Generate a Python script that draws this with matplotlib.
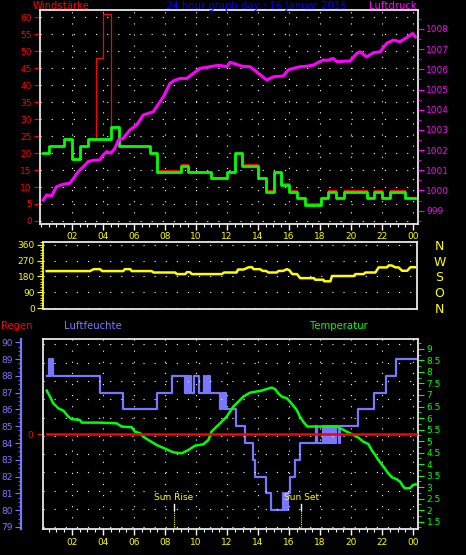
import numpy as np
import matplotlib
matplotlib.use('Agg')
import matplotlib.pyplot as plt
from matplotlib.ticker import MultipleLocator

# hours of the day (0..24)
hour_ticks = [2, 4, 6, 8, 10, 12, 14, 16, 18, 20, 22, 24]
hour_labels = ['02', '04', '06', '08', '10', '12', '14', '16', '18', '20', '22', '00']

# wind speed (average), step changes
wind_t = [0.15, 0.52, 1.5, 1.98, 2.5, 3.05, 4.5, 5.03, 7.03, 7.46, 9.03, 9.5, 11.0, 12.0, 12.5,
          13.0, 14.0, 14.5, 15.03, 15.5, 16.0, 16.5, 17.03, 18.06, 18.5, 19.03, 19.57, 21.0,
          21.5, 22.0, 22.5, 23.5, 24.1]
wind_v = [20.1, 22.2, 24.1, 18.3, 22.2, 24.1, 27.8, 22.2, 20.1, 14.5, 16.3, 14.5, 12.6, 14.5, 20.1,
          16.3, 12.6, 8.6, 14.5, 10.6, 8.6, 6.7, 4.7, 6.7, 8.6, 6.7, 8.6, 6.7,
          8.6, 6.7, 8.6, 6.7, 6.7]

# gusts
gust_t = [0.15, 0.52, 1.5, 1.98, 2.5, 3.05, 3.53, 4.02, 4.5, 5.03, 7.03, 7.46, 9.03, 9.5, 11.0,
          12.0, 12.5, 13.0, 14.0, 14.5, 15.03, 15.5, 16.0, 16.5, 17.03, 18.06, 18.5, 19.03,
          19.57, 21.0, 21.5, 22.0, 22.5, 23.5, 24.1]
gust_v = [20.1, 22.2, 24.1, 18.3, 22.2, 24.1, 48.1, 61.0, 27.8, 22.2, 20.1, 14.9, 16.8, 14.5, 13.0,
          14.5, 20.1, 16.7, 12.9, 9.1, 14.5, 11.1, 9.1, 7.2, 5.4, 7.2, 9.1, 7.2,
          9.1, 7.2, 9.1, 7.2, 9.1, 7.2, 7.2]

# air pressure (hPa)
press_t = [0.15, 0.37, 0.69, 1.0, 1.4, 1.87, 2.1, 2.4, 2.7, 3.05, 3.4, 3.8, 4.0, 4.24, 4.5, 4.77,
           5.0, 5.3, 5.74, 6.17, 6.6, 7.25, 7.46, 7.9, 8.32, 8.6, 8.97, 9.4, 9.83, 10.26, 10.7,
           11.1, 11.5, 12.0, 12.2, 12.6, 13.0, 13.5, 13.9, 14.2, 14.56, 14.99, 15.3, 15.63, 15.95,
           16.3, 16.7, 17.1, 17.57, 17.9, 18.2, 18.5, 18.86, 19.08, 19.5, 19.94, 20.37, 20.58,
           21.0, 21.44, 21.87, 22.3, 22.73, 23.16, 23.6, 23.98, 24.15]
press_v = [999.53, 999.78, 999.73, 1000.19, 1000.3, 1000.36, 1000.6, 1000.93, 1001.15, 1001.43,
           1001.5, 1001.51, 1001.75, 1001.92, 1001.85, 1002.09, 1002.5, 1002.58, 1003.0, 1003.24,
           1003.74, 1003.9, 1004.15, 1004.64, 1005.3, 1005.45, 1005.55, 1005.55, 1005.8, 1006.05,
           1006.1, 1006.16, 1006.2, 1006.13, 1006.35, 1006.25, 1006.15, 1006.13, 1005.88, 1005.7,
           1005.47, 1005.63, 1005.65, 1005.67, 1005.97, 1006.05, 1006.13, 1006.15, 1006.21,
           1006.35, 1006.46, 1006.45, 1006.54, 1006.38, 1006.4, 1006.41, 1006.79, 1006.87,
           1006.62, 1006.82, 1006.87, 1007.29, 1007.45, 1007.37, 1007.58, 1007.78, 1007.61]

# wind direction (degrees)
dir_t = [0.37, 3.16, 3.4, 3.8, 3.95, 5.3, 5.4, 5.75, 5.85, 7.14, 7.25, 8.65, 8.75, 9.3, 9.4, 9.6,
         9.72, 11.66, 11.8, 12.6, 12.7, 13.05, 13.4, 13.6, 13.7, 14.1, 14.3, 14.5, 14.66, 15.2,
         15.3, 15.6, 15.85, 16.0, 16.2, 16.5, 16.7, 17.6, 17.67, 18.2, 18.25, 18.65, 18.75,
         20.15, 20.26, 20.8, 20.9, 21.55, 21.76, 22.3, 22.4, 22.6, 22.84, 23.05, 23.27, 23.6,
         23.8, 24.1]
dir_v = [210, 210, 221, 221, 210, 210, 221, 221, 210, 210, 202, 202, 193, 193, 204, 204,
         193, 193, 202, 202, 219, 219, 232, 232, 221, 221, 211, 211, 202, 202,
         211, 211, 221, 215, 193, 193, 170, 170, 161, 161, 152, 152, 182,
         182, 193, 193, 202, 202, 231, 231, 242, 242, 231, 231, 212, 212,
         232, 232]
compass = ['N', 'W', 'S', 'O', 'N']
compass_deg = [360, 270, 180, 90, 0]

# humidity (%), step changes
hum_t = [0.37, 0.54, 0.6, 0.64, 0.79, 3.8, 5.27, 7.46, 8.43, 9.29, 9.36, 9.43, 9.5, 9.57, 9.64,
         9.7, 9.85, 10.2, 10.5, 10.6, 10.68, 10.78, 10.85, 10.9, 11.55, 11.65, 11.8, 11.88,
         11.95, 12.55, 13.16, 13.7, 13.8, 14.5, 14.82, 15.63, 15.7, 15.78, 15.85, 15.92, 16.06,
         16.39, 16.7, 17.74, 17.8, 18.2, 18.28, 18.36, 18.44, 18.52, 18.6, 18.68, 18.76, 18.84,
         18.92, 19.0, 19.2, 19.29, 20.43, 21.5, 22.24, 22.88, 24.17]
hum_v = [88, 89, 88, 89, 88, 87, 86, 87, 88, 87, 88, 87, 88, 87, 88,
         87, 88, 87, 88, 87, 88, 87, 88, 87, 86, 87, 86, 87,
         86, 85, 84, 83, 82, 81, 80, 81, 80, 81, 80, 81, 82,
         83, 84, 85, 84, 85, 84, 85, 84, 85, 84, 85, 84, 85,
         84, 85, 84, 85, 86, 87, 88, 89, 89]

# temperature (°C)
temp_t = [0.37, 0.58, 0.79, 1.12, 1.44, 1.76, 1.98, 2.5, 2.63, 3.8, 4.88, 5.2, 5.85, 6.06, 6.39,
          6.6, 6.92, 7.46, 8.11, 8.54, 9.08, 9.5, 9.94, 10.47, 10.8, 11.0, 11.1, 11.55, 11.98,
          12.4, 12.73, 13.05, 13.48, 13.9, 14.24, 14.56, 14.88, 15.1, 15.3, 15.53, 15.85, 16.06,
          16.28, 16.5, 16.7, 16.92, 17.18, 19.1, 19.3, 19.72, 20.15, 20.47, 20.8, 21.12, 21.33,
          21.55, 21.76, 22.09, 22.4, 22.63, 22.95, 23.16, 23.37, 23.48, 23.8, 23.98, 24.17]
temp_v = [7.19, 6.93, 6.64, 6.42, 6.32, 6.06, 5.95, 5.92, 5.8, 5.8, 5.77, 5.63, 5.6, 5.41, 5.34,
          5.19, 5.05, 4.83, 4.64, 4.51, 4.47, 4.61, 4.8, 4.86, 5.05, 5.41, 5.48, 5.77, 6.06,
          6.49, 6.71, 6.93, 7.1, 7.15, 7.19, 7.26, 7.32, 7.26, 7.08, 6.93, 6.86, 6.71,
          6.53, 6.35, 6.06, 5.84, 5.63, 5.63, 5.56, 5.41, 5.27, 5.15, 4.97, 4.87, 4.61,
          4.4, 4.18, 3.89, 3.6, 3.43, 3.34, 3.24, 3.02, 2.95, 2.95, 3.09, 3.12]

# rain
rain_t = [0.37, 24.17]
rain_v = [0, 0]

sun_rise = 8.56
sun_set = 16.78

HUM = '#7878ff'
DOTS = (0, (1, 9))
W, H = 466, 555

fig = plt.figure(figsize=(4.66, 5.55), dpi=100, facecolor='black')


def box(x0, y0, x1, y1):
    return [x0 / W, 1 - y1 / H, (x1 - x0) / W, (y1 - y0) / H]


def hour_axis(ax, labels=True):
    ax.set_xticks(hour_ticks)
    ax.set_xticklabels(hour_labels if labels else [])
    ax.xaxis.set_minor_locator(MultipleLocator(0.5))
    ax.tick_params(axis='x', which='major', colors='white', labelcolor='yellow',
                   labelsize=6.5, length=4, width=1, pad=2)
    ax.tick_params(axis='x', which='minor', colors='white', length=2, width=0.8)


# ---------------- top panel: wind + pressure
ax1 = fig.add_axes(box(40, 10, 418, 224), facecolor='black')
ax1.step(gust_t, gust_v, where='post', color='red', lw=0.9)
ax1.step(wind_t, wind_v, where='post', color='#00ff00', lw=2)
ax1.set_xlim(-0.06, 24.32)
ax1.set_ylim(-0.9, 62.2)
hour_axis(ax1)
ax1.set_yticks(range(0, 61, 5))
ax1.tick_params(axis='y', colors='red', labelcolor='red', labelsize=6.5, length=4, pad=2)
ax1.grid(True, color='white', linestyle=DOTS, linewidth=0.8)
for s in ax1.spines.values():
    s.set_color('#e8e8e8')
    s.set_linewidth(1.3)

ax1p = ax1.twinx()
ax1p.plot(press_t, press_v, color='#ff00ff', lw=2.2)
ax1p.set_ylim(998.34, 1008.94)
ax1p.set_yticks(range(999, 1009))
ax1p.yaxis.set_minor_locator(MultipleLocator(0.5))
ax1p.tick_params(axis='y', which='major', colors='#ff00ff', labelcolor='#ff00ff',
                 labelsize=6.5, length=4, pad=2)
ax1p.tick_params(axis='y', which='minor', colors='#ff00ff', length=2)
for s in ax1p.spines.values():
    s.set_visible(False)

# ---------------- middle panel: wind direction
ax2 = fig.add_axes(box(43.3, 241.7, 417.3, 309.3), facecolor='black')
ax2.plot(dir_t, dir_v, color='yellow', lw=1.8)
ax2.set_xlim(0.15, 24.25)
ax2.set_ylim(-7, 377)
ax2.set_xticks([])
ax2.set_yticks([0, 90, 180, 270, 360])
ax2.yaxis.set_minor_locator(MultipleLocator(15))
ax2.tick_params(axis='y', which='major', colors='yellow', labelcolor='yellow',
                labelsize=6.5, length=4, pad=2)
ax2.tick_params(axis='y', which='minor', colors='yellow', length=2)
ax2.yaxis.grid(True, color='white', linestyle=DOTS, linewidth=0.8)
for name, s in ax2.spines.items():
    s.set_color('yellow' if name == 'left' else '#e8e8e8')
    s.set_linewidth(1.3)

ax2c = ax2.twinx()
ax2c.set_ylim(-7, 377)
ax2c.set_yticks(compass_deg)
ax2c.set_yticklabels(compass)
ax2c.tick_params(axis='y', length=0, labelsize=9, labelcolor='yellow', pad=16)
for lab in ax2c.get_yticklabels():
    lab.set_horizontalalignment('center')
for s in ax2c.spines.values():
    s.set_visible(False)

# ---------------- bottom panel: humidity, temperature, rain
ax3 = fig.add_axes(box(42.7, 339, 418.3, 529.3), facecolor='black')
ax3.step(hum_t, hum_v, where='post', color=HUM, lw=1.6)
ax3.set_xlim(0.11, 24.34)
ax3.set_ylim(78.86, 90.2)
hour_axis(ax3)
ax3.set_yticks(range(79, 91))
ax3.yaxis.set_minor_locator(MultipleLocator(0.25))
ax3.tick_params(axis='y', which='major', colors=HUM, labelcolor=HUM, labelsize=6.5,
                length=4, pad=2)
ax3.tick_params(axis='y', which='minor', colors=HUM, length=2)
ax3.xaxis.grid(True, color='white', linestyle=DOTS, linewidth=0.8)
ax3.hlines(np.linspace(0.0105, 0.972, 11), 0, 1, transform=ax3.transAxes,
           color='white', linestyle=DOTS, linewidth=0.8)
ax3.spines['left'].set_position(('outward', 15.6))
ax3.spines['left'].set_color(HUM)
ax3.spines['left'].set_linewidth(1.6)
ax3.spines['right'].set_visible(False)
for name in ['top', 'bottom']:
    ax3.spines[name].set_color('#e8e8e8')
    ax3.spines[name].set_linewidth(1.3)

# sunrise / sunset markers
for t, txt in [(sun_rise, 'Sun Rise'), (sun_set, 'Sun Set')]:
    ax3.axvline(t, ymin=0, ymax=0.101, color='yellow', linestyle=(0, (1, 1)), lw=0.8)
    ax3.axvline(t, ymin=0.101, ymax=0.133, color='white', lw=1)
    ax3.text(t, 0.166, txt, transform=ax3.get_xaxis_transform(), color='yellow',
             fontsize=6.5, ha='center', va='center')

ax3t = ax3.twinx()
ax3t.plot(temp_t, temp_v, color='#00ff00', lw=1.8)
ax3t.set_ylim(1.17, 9.43)
ax3t.set_yticks(np.arange(1.5, 9.01, 0.5))
ax3t.set_yticklabels(['%g' % v for v in np.arange(1.5, 9.01, 0.5)])
ax3t.yaxis.set_minor_locator(MultipleLocator(0.25))
ax3t.tick_params(axis='y', which='major', colors='#00ff00', labelcolor='#00ff00',
                 labelsize=6.5, length=4, pad=2)
ax3t.tick_params(axis='y', which='minor', colors='#00ff00', length=2)
for name, s in ax3t.spines.items():
    s.set_visible(name == 'right')
ax3t.spines['right'].set_color('#e8e8e8')
ax3t.spines['right'].set_linewidth(1.3)

ax3r = ax3.twinx()
ax3r.plot(rain_t, rain_v, color='red', lw=1.8)
ax3r.set_ylim(-1, 1)
ax3r.yaxis.set_ticks_position('left')
ax3r.set_yticks([0])
ax3r.tick_params(axis='y', colors='red', labelcolor='red', labelsize=6.5, length=4, pad=3)
for name, s in ax3r.spines.items():
    s.set_visible(name == 'left')
ax3r.spines['left'].set_color('#e8e8e8')
ax3r.spines['left'].set_linewidth(1.3)

# ---------------- headings
fig.text(61 / W, 1 - 6 / H, 'Windstärke', color='red', fontsize=7.3, ha='center', va='center')
fig.text(256 / W, 1 - 6 / H, '24 hour graph day : 16 Januar 2015', color='#0000ff',
         fontsize=7.3, ha='center', va='center')
fig.text(393 / W, 1 - 6 / H, 'Luftdruck', color='#ff00ff', fontsize=7.3, ha='center', va='center')
fig.text(1 / W, 1 - 326 / H, 'Regen', color='red', fontsize=7.3, ha='left', va='center')
fig.text(93 / W, 1 - 326 / H, 'Luftfeuchte', color=HUM, fontsize=7.3, ha='center', va='center')
fig.text(339 / W, 1 - 326 / H, 'Temperatur', color='#00ff00', fontsize=7.3, ha='center', va='center')

fig.savefig('out.png', dpi=100, facecolor='black')
